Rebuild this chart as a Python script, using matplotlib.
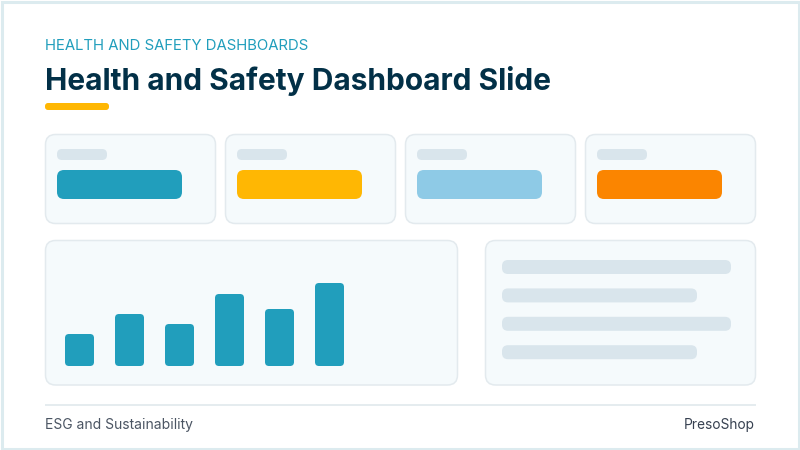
import matplotlib
matplotlib.use('Agg')
import matplotlib.pyplot as plt
from matplotlib.patches import FancyBboxPatch, Rectangle

eyebrow = 'HEALTH AND SAFETY DASHBOARDS'
title = 'Health and Safety Dashboard Slide'
footer_left = 'ESG and Sustainability'
footer_right = 'PresoShop'

kpi_colors = ['#219EBC', '#FFB703', '#8ECAE6', '#FB8500']
bar_values = [32, 52, 42, 72, 57, 83]
line_lengths = [229, 195, 229, 195]

CARD_FILL = '#F5FAFC'
CARD_EDGE = '#E3EAEE'
SKELETON = '#D9E5EC'
BAR_BASE = 366


def box(ax, x0, y0, x1, y1, r, fc, ec='none', lw=0):
    patch = FancyBboxPatch((x0, y0), x1 - x0, y1 - y0,
                           boxstyle=f'round,pad=0,rounding_size={r}',
                           fc=fc, ec=ec, lw=lw)
    ax.add_patch(patch)


fig = plt.figure(figsize=(8, 4.5), dpi=100)
ax = fig.add_axes([0, 0, 1, 1])
ax.set_xlim(0, 800)
ax.set_ylim(450, 0)
ax.axis('off')

# page frame
ax.add_patch(Rectangle((1.5, 1.5), 797, 447, fc='white', ec='#DCEBEF', lw=2.2))

ax.text(45, 46.5, eyebrow, family='Inter', fontsize=10.72, color='#219EBC', va='center')
ax.text(45, 81.5, title, family='Inter', fontweight='bold', fontsize=21.52, color='#023047', va='center')
box(ax, 45, 103, 109, 110, 3, '#FFB703')

# kpi cards
for i, c in enumerate(kpi_colors):
    x = 45.5 + i * 180
    box(ax, x, 134.5, x + 170, 223.5, 10, CARD_FILL, CARD_EDGE, 1.1)
    box(ax, x + 11.5, 149, x + 61.5, 160, 5, SKELETON)
    box(ax, x + 11.5, 170, x + 136.5, 199, 7, c)

# chart panel
box(ax, 45.5, 240.5, 457.5, 385, 10, CARD_FILL, CARD_EDGE, 1.1)
for i, v in enumerate(bar_values):
    x = 65 + i * 50
    box(ax, x, BAR_BASE - v, x + 29, BAR_BASE, 4, '#219EBC')

# text panel
box(ax, 485.5, 240.5, 755.5, 385, 10, CARD_FILL, CARD_EDGE, 1.1)
for i, w in enumerate(line_lengths):
    y = 260 + i * 28.4
    box(ax, 502, y, 502 + w, y + 14, 6, SKELETON)

# footer
ax.plot([45, 756], [404.5, 404.5], color='#E3EAEE', lw=1.3, solid_capstyle='butt')
ax.text(45, 424.5, footer_left, family='Inter', fontsize=10.03, color='#4B5563', va='center')
ax.text(755, 424.5, footer_right, family='Inter', fontsize=9.9, color='#374151', va='center', ha='right')

fig.savefig('out.png', dpi=100)
